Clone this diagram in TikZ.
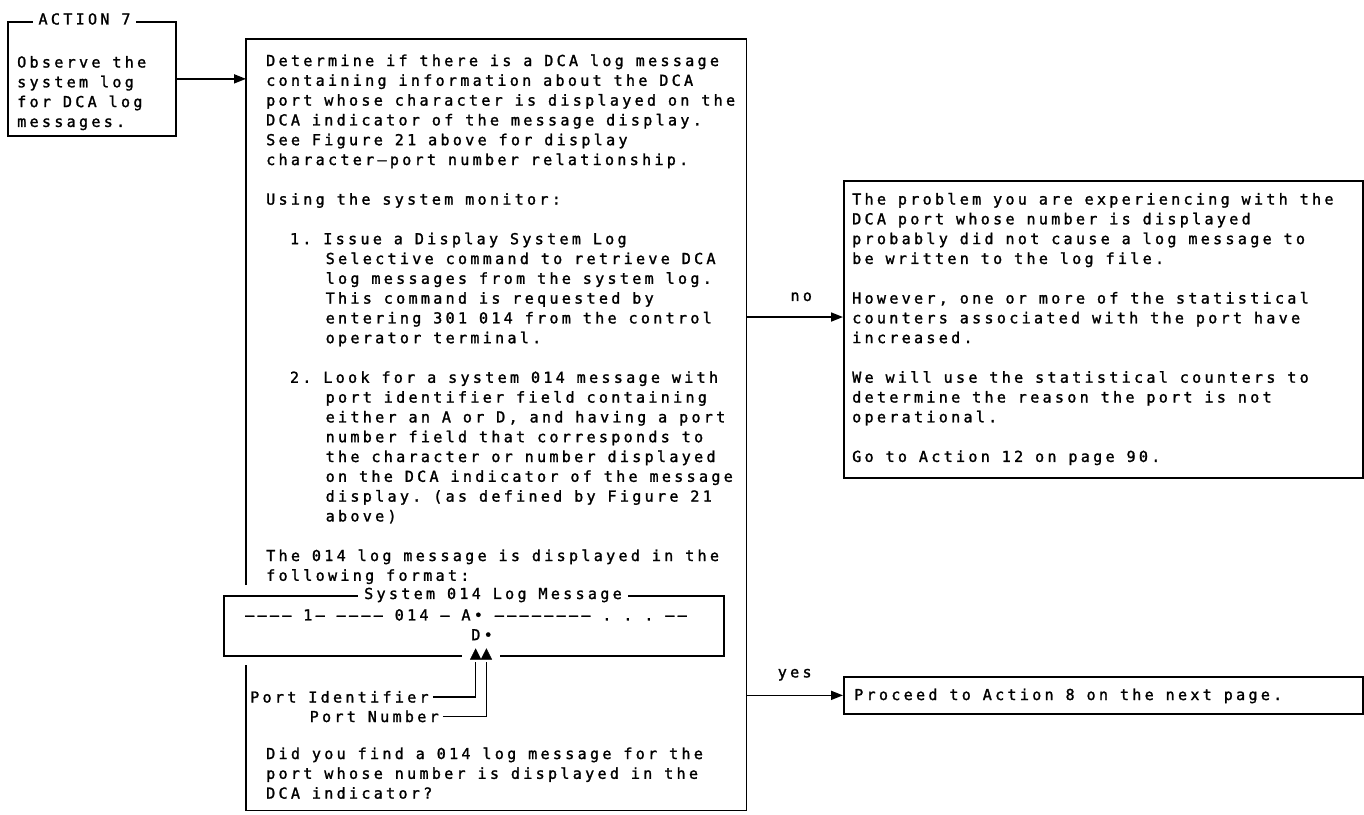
\documentclass[tikz,border=0pt]{standalone}
\usepackage{fontspec}
\usepackage{tikz}
\usetikzlibrary{arrows.meta, calc}
\newfontfamily\ibmfont[LetterSpace=21.7, FakeBold=1.5]{DejaVu Sans Mono}
\newlength{\cellw}
\setlength{\cellw}{11.9pt}
\newcommand{\ibm}{\ibmfont\fontsize{15.1}{19.8}\selectfont\frenchspacing}
\newcommand{\ind}[1]{\hspace*{#1\cellw}}
\newcommand{\gap}{\\[19.8pt]}

\begin{document}
\begin{tikzpicture}[x=1pt, y=-1pt,
  every node/.style={font=\ibm, inner sep=0pt,
    execute at begin node={\spaceskip=\cellw\xspaceskip=\cellw\relax}},
  box/.style={draw, line width=1.7pt, anchor=north west},
  para/.style={anchor=base west, align=left, text width=#1},
  arr/.style={-{Triangle[length=12pt, width=9pt]}, line width=1.7pt},
  lead/.style={line width=1.7pt}]
  \useasboundingbox (0,0) rectangle (1364,814);

  % Action 7
  \node[box, minimum width=168pt, minimum height=114pt] (act) at (7,21) {};
  \node[fill=white, inner xsep=6pt] (acttitle) at (84.5,19) {ACTION 7};
  \node[para=160pt] (acttext) at (17,67.5) {Observe the\\system log\\for DCA log\\messages.};

  % main box, left side broken by the log format box
  \node[minimum width=500pt, minimum height=771pt, anchor=north west] (find) at (246,39) {};
  \draw[line width=1.7pt] ($(find.north west)+(0,546)$) -- (find.north west) -- (find.north east)
    -- (find.south east) -- (find.south west) -- ($(find.south west)+(0,-145)$);
  \node[para=490pt] (findtext) at (266,66) {Determine if there is a DCA log message\\
    containing information about the DCA\\
    port whose character is displayed on the\\
    DCA indicator of the message display.\\
    See Figure 21 above for display\\
    character—port number relationship.\gap
    Using the system monitor:\gap
    \ind{2}1. Issue a Display System Log\\
    \ind{5}Selective command to retrieve DCA\\
    \ind{5}log messages from the system log.\\
    \ind{5}This command is requested by\\
    \ind{5}entering 301 014 from the control\\
    \ind{5}operator terminal.\gap
    \ind{2}2. Look for a system 014 message with\\
    \ind{5}port identifier field containing\\
    \ind{5}either an A or D, and having a port\\
    \ind{5}number field that corresponds to\\
    \ind{5}the character or number displayed\\
    \ind{5}on the DCA indicator of the message\\
    \ind{5}display. (as defined by Figure 21\\
    \ind{5}above)\gap
    The 014 log message is displayed in the\\
    following format:};

  % log message format
  \node[box, minimum width=500pt, minimum height=60pt] (logfmt) at (223,595) {};
  \node[fill=white, inner xsep=6pt, anchor=west] (logtitle) at (358,595) {System 014 Log Message};
  \node[anchor=base west] (logrow) at (245,620.4) {–––– 1– –––– 014 – A• –––––––– . . . ––};
  \node[anchor=base west] (logrowd) at (471.1,640.2) {D•};
  \node[fill=white, inner xsep=8pt, inner ysep=2pt,
    font={\ibm\fontsize{18}{18}\selectfont\addfontfeature{LetterSpace=0}}] (tris) at (481,654) {▲▲};
  \node[anchor=base west] (pid) at (250,702.5) {Port Identifier};
  \node[anchor=base west] (pnum) at (309.5,722) {Port Number};
  \draw[lead] ([xshift=4pt]pid.east) -| ([xshift=-5.4pt]tris.south);
  \draw[lead] ([xshift=4pt]pnum.east) -| ([xshift=5.4pt]tris.south);

  \node[para=490pt] (asktext) at (266,759) {Did you find a 014 log message for the\\
    port whose number is displayed in the\\
    DCA indicator?};

  % no branch
  \node[box, minimum width=519pt, minimum height=297pt] (prob) at (843,180) {};
  \node[para=510pt] (probtext) at (852,204.5) {The problem you are experiencing with the\\
    DCA port whose number is displayed\\
    probably did not cause a log message to\\
    be written to the log file.\gap
    However, one or more of the statistical\\
    counters associated with the port have\\
    increased.\gap
    We will use the statistical counters to\\
    determine the reason the port is not\\
    operational.\gap
    Go to Action 12 on page 90.};
  \coordinate (nolvl) at (795,317);
  \draw[arr] (find.east |- nolvl) -- node[above=15pt, xshift=6.5pt] {no} (prob.west |- nolvl);

  % yes branch
  \node[box, minimum width=519pt, minimum height=37pt] (okbox) at (843,676) {};
  \node[anchor=base west] (oktext) at (854,700) {Proceed to Action 8 on the next page.};
  \draw[arr] (find.east |- okbox) -- node[above=14pt] {yes} (okbox);

  % leader from action 7
  \draw[arr] (act) -- (act -| find.west);
\end{tikzpicture}
\end{document}
